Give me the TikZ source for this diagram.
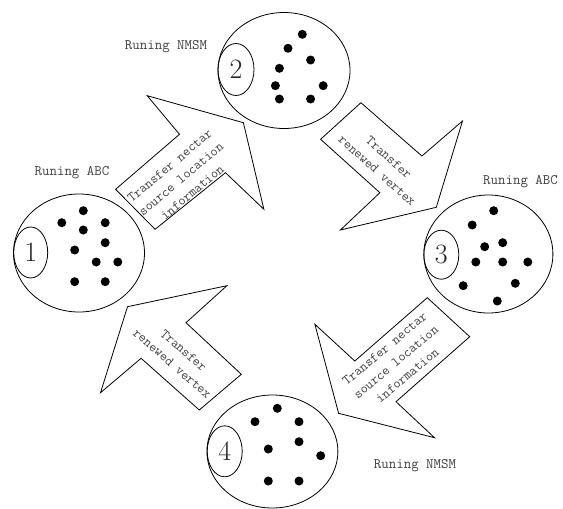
\documentclass[tikz,border=0pt]{standalone}
\usepackage{fontspec}
\usepackage{tikz}
\usetikzlibrary{shapes.geometric}

\begin{document}
\begin{tikzpicture}[x=1pt,y=-1pt]
    \tikzstyle{every node} = [font=\fontsize{14.5}{18}\selectfont\ttfamily, text=black!75]
    \tikzstyle{swarm} = [draw, ellipse, inner sep=0pt, line width=0.8pt]
    \tikzstyle{tag} = [draw, ellipse, inner sep=0pt, line width=0.8pt, text=black!85, font=\fontsize{28}{28}\selectfont\rmfamily]
    \tikzstyle{bigarrow} = [draw, line width=0.8pt, line join=miter]
    \tikzstyle{arrowtext} = [align=center, font=\fontsize{13.7}{17.5}\selectfont\ttfamily]
    \useasboundingbox (0,0) rectangle (563,509);

    % place nodes
    \node[swarm, minimum width=131pt, minimum height=118pt](swarmOne) at (79,253){};
    \node[swarm, minimum width=132pt, minimum height=116pt](swarmTwo) at (284,70.5){};
    \node[swarm, minimum width=129pt, minimum height=118pt](swarmThree) at (488.4,254){};
    \node[swarm, minimum width=131pt, minimum height=113pt](swarmFour) at (272.4,451.5){};

    \node[tag, minimum width=34pt, minimum height=51pt](tagOne) at (30.7,252.5){1};
    \node[tag, minimum width=36pt, minimum height=52pt](tagTwo) at (236,69.5){2};
    \node[tag, minimum width=35pt, minimum height=49pt](tagThree) at (441.3,254.7){3};
    \node[tag, minimum width=35pt, minimum height=51pt](tagFour) at (224.7,451.3){4};

    \node(runOne) at (72,173){Runing ABC};
    \node(runTwo) at (166,46.5){Runing NMSM};
    \node[anchor=west, inner sep=0pt](runThree) at (483,182){Runing ABC};
    \node(runFour) at (415,466){Runing NMSM};

    % bees
    \foreach \x/\y in {83.3/210.7, 61.8/222.7, 105.2/222.7, 83.3/230, 105.2/242.7, 74.7/250, 96.2/262, 117.8/262, 74.7/281.7, 105.2/281.7,
                       302.3/34.3, 288/48.3, 310.6/60, 279.4/68.3, 275.4/85.7, 323.2/85.7, 279.4/99, 310.6/99,
                       493.7/210.7, 472.2/225, 502.7/242.7, 484.7/246.7, 475.8/262, 502.7/262, 527.8/262, 463.2/285.7, 515.3/283.3, 497.3/301,
                       277.3/408.3, 255/421.7, 299/421.7, 299/441.7, 268.3/449, 320.7/455.7, 268.3/481, 299/481}
        \fill (\x,\y) circle (4.5pt);

    % Connections
    \draw[bigarrow] (115.6,189.3)--(179.5,134.3)--(147.2,95.7)--(243.4,122.7)--(263.9,209.3)--(225.5,172.7)--(155.1,229.3)--cycle;
    \draw[bigarrow] (360.9,102.7)--(421.9,156)--(462.5,121)--(436.3,207.3)--(340.4,230)--(379.9,192.7)--(320.6,139.3)--cycle;
    \draw[bigarrow] (226.9,285.7)--(186,322.7)--(241.3,374.3)--(199.3,410)--(141.1,358.3)--(100.5,392.7)--(127.5,306.7)--cycle;
    \draw[bigarrow] (427.3,297.7)--(469.7,336.7)--(396,401.7)--(434.5,437.7)--(338.6,413.3)--(314.9,324.3)--(354.8,361)--cycle;

    \node[arrowtext, rotate=40](sendNectarA) at (181,179){Transfer nectar\\source location\\information};
    \node[arrowtext, rotate=-42](sendVertexA) at (383,164){Transfer\\renewed vertex};
    \node[arrowtext, rotate=-41](sendVertexB) at (178,357){Transfer\\renewed vertex};
    \node[arrowtext, rotate=40](sendNectarB) at (396,362){Transfer nectar\\source location\\information};

\end{tikzpicture}
\end{document}
